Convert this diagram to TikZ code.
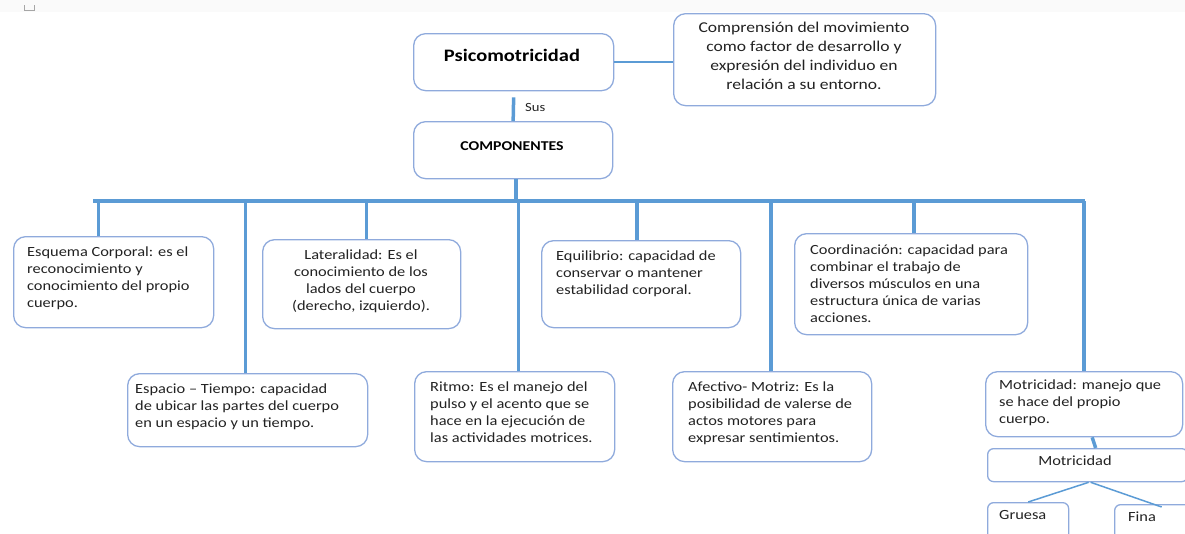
\documentclass[tikz,border=0pt]{standalone}
\usepackage{fontspec}
\setmainfont{Carlito}[FakeStretch=1.17]
\definecolor{boxc}{HTML}{8FAADC}
\definecolor{linec}{HTML}{5B9BD5}
\definecolor{txtc}{HTML}{222222}
\newcommand{\fsn}{\fontsize{14pt}{17pt}\selectfont}
\begin{document}
\begin{tikzpicture}[x=1pt,y=-1pt,
  box/.style={draw=boxc, line width=1.3pt, rounded corners=12pt, anchor=north west, inner sep=0pt},
  sbox/.style={draw=boxc, line width=1.3pt, rounded corners=6pt, anchor=north west, inner sep=0pt},
  conn/.style={draw=linec, line width=3.5pt},
  thin/.style={draw=linec, line width=1.5pt},
  txt/.style={anchor=north west, inner sep=0pt, align=left, font=\fsn, text=txtc},
  ctxt/.style={anchor=north, inner sep=0pt, align=center, font=\fsn, text=txtc}]
\useasboundingbox (0,0) rectangle (1185,533);
\clip (0,0) rectangle (1185,533);
\fill[black!2] (0,0) rectangle (1185,12);
\draw[black!35, line width=0.8pt] (24,5) -- (24,10) -- (34,10) -- (34,5);
% top boxes
\node[box, minimum width=200pt, minimum height=57pt] (psico) at (413,33) {};
\node[anchor=center, inner sep=0pt, font=\fontsize{17.5pt}{20pt}\selectfont\bfseries, text=black] (psicot) at (512,55) {Psicomotricidad};
\node[box, minimum width=262pt, minimum height=92pt] (compr) at (673,13) {};
\node[ctxt, font=\fontsize{15pt}{19pt}\selectfont] (comprt) at (804,22) {Comprensión del movimiento\\como factor de desarrollo y\\expresión del individuo en\\relación a su entorno.};
\node[box, minimum width=199pt, minimum height=57pt] (comp) at (413,121) {};
\node[anchor=center, inner sep=0pt, font=\fontsize{13.5pt}{15pt}\selectfont\bfseries, text=black] (compt) at (512,146) {COMPONENTES};
\draw[thin] (psico.east) -- (psico.east -| compr.west);
\draw[conn] ([yshift=-6pt]psico.south) -- (comp.north) node[pos=0.45, right=10pt, font=\fontsize{12.5pt}{14pt}\selectfont, text=txtc, inner sep=0pt] (sus) {Sus};
% bus
\coordinate (busL) at (93,201);
\coordinate (busR) at (1085,201);
\draw[conn] ([xshift=3pt]comp.south) -- ([xshift=3pt]comp.south |- busL);
\draw[conn] (busL) -- (busR);
% boxes
\node[box, minimum width=200pt, minimum height=91pt] (esq) at (13,236) {};
\node[txt] (esqt) at (27,247) {Esquema Corporal: es el\\reconocimiento y\\conocimiento del propio\\cuerpo.};
\node[box, minimum width=198pt, minimum height=89pt] (lat) at (262,239) {};
\node[ctxt] (latt) at (361,250) {Lateralidad: Es el\\conocimiento de los\\lados del cuerpo\\(derecho, izquierdo).};
\node[box, minimum width=240pt, minimum height=73pt] (esp) at (127,373) {};
\node[txt] (espt) at (135,384) {Espacio – Tiempo: capacidad\\de ubicar las partes del cuerpo\\en un espacio y un tiempo.};
\node[box, minimum width=200pt, minimum height=90pt] (rit) at (414,371) {};
\node[txt] (ritt) at (430,382) {Ritmo: Es el manejo del\\pulso y el acento que se\\hace en la ejecución de\\las actividades motrices.};
\node[box, minimum width=199pt, minimum height=87pt] (equ) at (541,240) {};
\node[txt] (equt) at (556,251) {Equilibrio: capacidad de\\conservar o mantener\\estabilidad corporal.};
\node[box, minimum width=199pt, minimum height=90pt] (afe) at (672,371) {};
\node[txt] (afet) at (688,382) {Afectivo- Motriz: Es la\\posibilidad de valerse de\\actos motores para\\expresar sentimientos.};
\node[box, minimum width=233pt, minimum height=101pt] (coo) at (794,233) {};
\node[txt] (coot) at (810,245) {Coordinación: capacidad para\\combinar el trabajo de\\diversos músculos en una\\estructura única de varias\\acciones.};
\node[box, minimum width=197pt, minimum height=65pt] (mot) at (985,371) {};
\node[txt] (mott) at (999,380) {Motricidad: manejo que\\se hace del propio\\cuerpo.};
\node[sbox, minimum width=200pt, minimum height=33pt] (mot2) at (987,448) {};
\node[anchor=center, inner sep=0pt, font=\fsn, text=txtc] (mot2t) at (1075,461) {Motricidad};
\node[sbox, minimum width=81pt, minimum height=45pt] (gru) at (987,502) {};
\node[txt] (grut) at (999,510) {Gruesa};
\node[sbox, minimum width=94pt, minimum height=45pt] (fin) at (1114,504) {};
\node[txt] (fint) at (1128,512) {Fina};
% drops
\draw[conn] ([xshift=-15pt]esq.north) -- ([xshift=-15pt]esq.north |- busL);
\draw[conn] ([xshift=-2pt]esp.north) -- ([xshift=-2pt]esp.north |- busL);
\draw[conn] ([xshift=5pt]lat.north) -- ([xshift=5pt]lat.north |- busL);
\draw[conn] ([xshift=4pt]rit.north) -- ([xshift=4pt]rit.north |- busL);
\draw[conn] ([xshift=-4pt]equ.north) -- ([xshift=-4pt]equ.north |- busL);
\draw[conn] ([xshift=-1pt]afe.north) -- ([xshift=-1pt]afe.north |- busL);
\draw[conn] ([xshift=3pt]coo.north) -- ([xshift=3pt]coo.north |- busL);
\draw[conn] (mot.north) -- (mot.north |- busL);
\draw[conn] ([xshift=8pt]mot.south) -- ([xshift=8pt]mot2.north);
\draw[thin] ([xshift=1pt]mot2.south) -- (gru.north);
\draw[thin] ([xshift=3pt]mot2.south) -- ([yshift=-3pt]fin.north);
\end{tikzpicture}
\end{document}
